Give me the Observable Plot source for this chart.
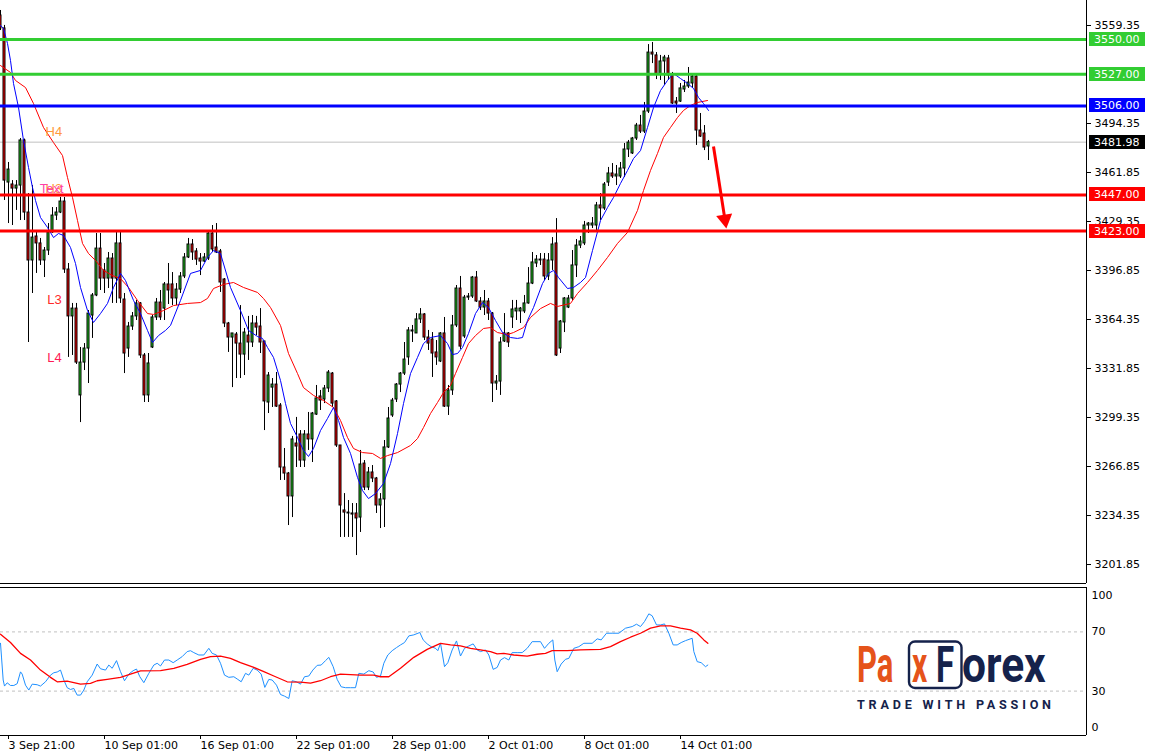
<!DOCTYPE html>
<html><head><meta charset="utf-8">
<script src="https://cdn.jsdelivr.net/npm/d3@7"></script>
<script src="https://cdn.jsdelivr.net/npm/@observablehq/plot@0.6"></script>
<style>
html,body{margin:0;padding:0;background:#fff;}
#wrap{position:relative;width:1150px;height:752px;overflow:hidden;font-family:"DejaVu Sans",sans-serif;}
#wrap svg{display:block;max-width:none;}
#logo{position:absolute;left:0;top:0;pointer-events:none;}
.rsi g[aria-label^="x-axis"] text{text-anchor:start;}
</style></head><body><div id="wrap"></div>
<script>
// ---- candle data (US500, 4H) ----
const open = [
3566.0,3557.4,3455.2,3453.9,3451.2,3453.2,3483.1,3435.3,3403.5,3419.4,
3414.8,3403.5,3410.1,3422.1,3433.3,3435.3,3442.6,3397.5,3366.4,3371.6,
3314.0,3335.8,3345.1,3367.0,3380.3,3411.4,3396.9,3391.5,3404.8,3391.5,
3414.8,3377.6,3345.1,3359.7,3366.4,3375.0,3340.5,3314.0,3345.8,3365.7,
3375.6,3371.6,3387.6,3387.6,3378.3,3384.2,3392.9,3405.5,3414.1,3409.5,
3404.8,3402.8,3404.8,3421.4,3412.1,3409.5,3390.9,3361.7,3352.4,3354.4,
3348.4,3341.1,3353.7,3349.1,3361.7,3359.7,3349.8,3309.3,3319.2,3321.2,
3307.3,3266.2,3262.2,3247.0,3282.1,3288.1,3270.8,3288.1,3284.8,3301.3,
3313.3,3311.3,3318.6,3328.5,3310.0,3280.8,3237.7,3236.3,3235.7,3235.7,
3233.0,3268.8,3252.9,3262.9,3258.9,3241.0,3245.0,3279.5,3300.7,3311.3,
3321.2,3328.5,3339.2,3356.4,3355.1,3364.4,3367.7,3352.4,3351.1,3342.5,
3336.5,3355.1,3306.6,3317.3,3360.4,3384.9,3353.1,3378.9,3379.6,3392.2,
3376.3,3372.3,3376.3,3368.3,3321.9,3323.2,3349.8,3355.1,3365.7,3369.7,
3369.7,3369.7,3375.0,3388.2,3401.5,3404.1,3404.1,3392.9,3403.5,3414.8,
3345.1,3362.4,3372.3,3378.3,3400.2,3413.4,3414.8,3426.7,3426.7,3426.7,
3440.0,3438.0,3455.2,3461.2,3459.2,3459.2,3464.5,3477.1,3474.5,3484.4,
3493.0,3489.0,3502.3,3541.4,3539.5,3526.9,3535.5,3537.5,3526.2,3508.9,
3508.9,3516.9,3518.9,3520.9,3525.5,3489.7,3487.7,3479.1];
const high = [
3569.3,3559.4,3468.5,3456.5,3456.5,3484.4,3484.0,3447.9,3453.2,3423.4,
3418.1,3412.1,3428.0,3438.6,3438.6,3445.3,3445.3,3401.5,3375.0,3375.0,
3345.8,3348.4,3370.3,3381.6,3421.4,3421.4,3401.5,3408.8,3408.1,3422.1,
3422.1,3381.6,3362.4,3369.0,3377.0,3375.6,3341.8,3341.8,3367.0,3378.3,
3383.6,3388.9,3401.5,3395.5,3388.2,3395.5,3408.1,3418.1,3417.4,3411.4,
3408.1,3408.1,3422.1,3426.7,3428.0,3410.8,3391.5,3362.4,3355.1,3355.7,
3373.6,3358.4,3366.4,3367.0,3366.4,3371.6,3349.8,3329.2,3325.2,3329.2,
3308.6,3278.8,3262.9,3286.8,3299.4,3290.7,3290.7,3302.7,3302.7,3320.6,
3317.3,3320.6,3330.5,3329.2,3310.6,3280.8,3248.9,3244.3,3242.3,3242.3,
3277.5,3270.8,3266.2,3267.5,3259.6,3248.9,3284.1,3306.0,3312.0,3321.9,
3329.2,3349.1,3359.0,3360.4,3368.3,3371.6,3368.3,3357.1,3355.7,3350.4,
3355.7,3365.7,3320.6,3367.0,3386.9,3392.9,3380.3,3381.6,3392.9,3396.2,
3378.9,3383.6,3378.3,3369.0,3327.2,3352.4,3368.3,3355.7,3377.0,3377.0,
3372.3,3380.3,3398.8,3408.8,3406.8,3408.1,3408.1,3408.1,3418.7,3431.3,
3363.7,3378.9,3380.3,3410.1,3417.4,3419.4,3429.4,3428.7,3432.0,3442.0,
3447.9,3455.2,3465.2,3467.8,3466.5,3468.5,3481.1,3483.1,3485.1,3494.4,
3499.7,3508.3,3546.7,3548.1,3541.4,3539.5,3539.5,3539.5,3528.2,3511.6,
3520.9,3522.9,3531.5,3527.5,3527.5,3501.0,3493.0,3483.1];
const low = [
3556.0,3443.3,3428.0,3426.7,3436.7,3430.0,3430.0,3349.1,3381.6,3394.9,
3400.2,3392.2,3406.8,3421.4,3430.0,3434.6,3394.9,3339.2,3340.5,3334.5,
3296.0,3330.5,3321.9,3351.8,3379.5,3383.6,3381.6,3384.9,3375.0,3375.0,
3375.0,3328.5,3339.2,3357.1,3363.7,3338.5,3309.3,3309.3,3345.1,3363.7,
3363.7,3363.7,3374.3,3373.6,3373.6,3381.6,3391.5,3404.8,3403.5,3400.2,
3393.5,3402.2,3403.5,3408.8,3408.1,3382.3,3359.0,3342.5,3319.2,3325.2,
3325.2,3327.2,3337.2,3345.8,3353.7,3341.8,3290.7,3302.0,3306.0,3306.0,
3257.6,3257.6,3227.7,3233.0,3266.2,3266.2,3266.2,3277.5,3269.5,3300.7,
3304.0,3308.6,3315.9,3306.0,3279.5,3219.8,3219.8,3219.8,3219.8,3207.8,
3223.1,3250.9,3250.9,3256.2,3235.7,3225.7,3226.4,3278.8,3299.4,3309.3,
3315.9,3327.2,3333.9,3349.1,3355.1,3361.7,3350.4,3343.8,3325.9,3333.9,
3335.8,3306.0,3300.7,3314.0,3359.0,3344.5,3351.8,3377.0,3378.3,3375.6,
3370.3,3367.0,3363.7,3309.3,3317.3,3314.0,3349.1,3345.8,3358.4,3363.7,
3361.7,3368.3,3374.5,3387.5,3398.8,3400.2,3390.2,3390.2,3396.9,3339.8,
3341.8,3355.7,3371.6,3377.0,3392.2,3411.4,3413.4,3421.4,3424.7,3423.4,
3430.0,3436.7,3452.6,3457.9,3453.2,3457.9,3458.5,3471.8,3473.8,3483.1,
3487.7,3487.7,3501.0,3534.1,3523.5,3522.9,3519.6,3522.9,3507.0,3501.0,
3508.3,3514.9,3517.6,3517.6,3479.8,3485.1,3476.4,3469.8];
const close = [
3557.4,3456.5,3463.8,3451.2,3453.2,3483.1,3435.3,3403.5,3418.7,3414.8,
3403.5,3410.1,3422.1,3433.3,3435.3,3442.6,3397.5,3366.4,3371.6,3335.8,
3335.8,3345.1,3368.3,3380.3,3411.4,3391.5,3391.5,3404.8,3391.5,3414.8,
3378.3,3341.8,3359.7,3366.4,3375.0,3340.5,3314.0,3335.2,3365.7,3375.6,
3365.7,3387.6,3383.6,3378.3,3384.2,3392.9,3405.5,3414.1,3408.8,3404.1,
3402.8,3405.5,3421.4,3410.8,3408.8,3388.9,3361.7,3352.4,3355.1,3348.4,
3341.1,3355.7,3349.1,3361.7,3359.0,3349.1,3310.0,3327.2,3321.2,3306.6,
3266.2,3262.2,3247.0,3284.8,3280.1,3270.8,3288.1,3284.8,3302.0,3312.0,
3310.6,3318.6,3329.2,3308.6,3280.8,3241.0,3236.3,3235.7,3235.0,3232.4,
3268.2,3252.9,3262.9,3258.9,3241.0,3245.0,3279.5,3298.7,3310.6,3321.2,
3328.5,3337.8,3357.1,3357.1,3364.4,3367.7,3352.4,3348.4,3341.8,3339.2,
3355.1,3306.6,3317.3,3360.4,3384.9,3346.4,3378.9,3379.6,3392.2,3376.3,
3372.3,3376.3,3368.3,3321.9,3323.2,3349.1,3355.1,3349.1,3371.0,3371.6,
3371.6,3375.0,3388.2,3402.2,3404.1,3403.5,3392.9,3403.5,3414.1,3340.5,
3363.0,3378.3,3378.3,3400.2,3413.4,3416.1,3426.7,3428.0,3428.0,3440.0,
3438.0,3453.9,3461.2,3459.2,3460.5,3464.5,3477.1,3481.7,3484.4,3493.0,
3489.0,3502.3,3541.4,3540.1,3526.9,3535.5,3538.1,3526.2,3507.6,3507.6,
3517.6,3518.9,3521.5,3525.5,3489.7,3485.7,3478.4,3481.98];

// ---- moving averages (bar index, price) ----
const fastMaIdx = [0,0.75,1.75,2.5,3.25,4.5,5.75,7,8,8.75,10,11.75,13.25,14.5,15.75,17.5,18.75,20,21.75,23.25,25,26.75,28.25,30,31.25,33.25,35,36.75,38,39.5,41.25,42.5,45,47.5,50,51.75,53.25,55,57.5,60,62,64.25,65.5,66.75,68.25,70,71.25,72.5,74.25,75.75,77,78.25,80,81.75,83.25,84.5,85.75,87.5,89.25,90.5,92,93.75,95.75,97.5,99.25,100.75,102.5,104.25,105.75,107.5,110,111.75,113,114.25,115.5,117,118.75,120.5,122,123.75,125.5,127.5,129.25,130.5,131.75,133.25,135.5,137,138.25,139.5,141.75,143.25,145,146.25,148,150,151.75,153.25,155,156.75,158.25,160,161.75,163.25,165,166.75,168.25,170,171.75,173.25,174.5,175.75,177];
const fastMaVal = [3559.4,3557.4,3547.4,3536.1,3520.9,3505.0,3483.1,3465.2,3451.9,3443.3,3432.0,3425.4,3418.7,3421.4,3420.1,3412.1,3401.5,3385.6,3370.3,3362.4,3368.3,3375.0,3385.6,3394.9,3390.2,3377.0,3368.3,3357.1,3349.1,3353.7,3357.1,3360.4,3377.0,3394.9,3396.9,3405.5,3410.1,3408.1,3385.6,3370.3,3357.1,3353.1,3351.8,3345.8,3339.2,3323.9,3308.6,3295.4,3286.1,3277.5,3273.5,3278.8,3290.7,3298.7,3306.0,3297.4,3286.1,3275.5,3259.6,3250.9,3245.6,3248.9,3255.6,3268.8,3288.7,3308.6,3328.5,3339.2,3348.4,3352.4,3353.7,3348.4,3341.1,3341.8,3345.8,3355.1,3368.3,3375.6,3372.3,3363.7,3355.7,3352.4,3351.8,3352.4,3363.7,3372.3,3388.2,3394.9,3396.9,3392.2,3384.9,3385.6,3388.9,3392.2,3410.1,3430.0,3438.6,3445.3,3454.6,3463.2,3471.1,3476.4,3491.7,3504.9,3516.2,3522.9,3527.5,3524.2,3520.9,3517.6,3511.6,3507.6,3503.0];
const slowMaIdx = [0,2.5,3.75,6.25,8.25,10.75,13.25,15.5,16.75,18,19.25,20.5,22,23.75,25.75,28,30,32,34.25,36.75,38.25,40.75,43.25,46.75,50,51.75,53.25,55.75,58.25,60.75,64.25,65.75,67.5,70,72,74.25,75.75,78.25,80.75,83.25,85,86.75,88.25,90.5,93,95,96.75,99.25,102.5,104.25,105.75,107.5,109.25,110.75,112.5,113.75,115.5,117,118.75,120.75,122.5,124.25,126.75,128.25,130.75,132.5,135,137.5,139.25,142.5,144.25,146.75,149.25,151.75,154.25,156.75,159.25,160.75,162.5,164.25,165.75,167.5,169.25,170.75,172.5,174.25,176.75];
const slowMaVal = [3532.8,3528.2,3522.9,3518.2,3507.6,3491.7,3481.7,3473.1,3458.5,3445.3,3430.0,3414.8,3408.1,3403.5,3396.9,3393.5,3391.5,3385.6,3377.0,3368.3,3367.7,3370.3,3373.6,3375.0,3375.6,3378.3,3384.9,3387.6,3388.9,3385.6,3382.3,3378.3,3372.3,3360.4,3341.8,3328.5,3319.2,3314.0,3310.6,3306.0,3297.4,3286.1,3278.8,3276.1,3275.5,3272.2,3274.1,3276.1,3280.8,3285.4,3292.7,3302.0,3309.3,3315.9,3320.6,3328.5,3339.2,3348.4,3353.7,3358.4,3359.0,3355.7,3354.4,3355.7,3359.0,3365.7,3371.6,3375.0,3373.0,3375.0,3381.6,3388.9,3396.9,3405.5,3414.8,3422.1,3436.7,3449.9,3463.2,3474.5,3485.1,3491.7,3498.3,3503.0,3506.3,3508.3,3509.6];

// ---- RSI panel (bar index, value) ----
const rsiIdx = [0,0.25,0.67,1,1.67,2.5,3.33,4.17,5,5.42,6.25,7.08,7.92,9.17,10,11.25,12.5,13.33,14.17,15,15.83,16.67,17.5,18.33,19.17,20,20.83,21.67,22.92,24.17,25,26.25,27.08,27.92,29,30,31,32.08,33.17,34,34.83,35.83,37.08,38.33,39.17,40,41,42.08,43.17,44.17,45.42,46.67,47.5,48.33,49.58,50.83,52.08,52.92,54,55,56,57.08,58.33,59.33,60.17,61.25,62.08,63.17,64.17,65.17,66.08,67.08,67.92,69,70,71,72.08,72.92,74,75,76,77.08,78.08,79.17,80.17,81.25,82.08,83.17,84.17,85.17,86.25,87.5,88.75,89.58,90.83,92.08,93.17,94,95,95.83,96.83,97.92,99,100,101,102.08,103.33,104.83,105.67,106.67,107.67,108.75,109.33,110,111,111.83,112.92,114,115,116,117.08,118.17,119.17,120,121.25,122.08,123.17,124.17,125,126,127.08,127.92,129.17,130.42,131.67,132.92,135,136,137.08,138.08,138.58,139.17,140.17,141.25,142.08,143.33,144.58,145.83,147.92,149.17,150.17,151.5,152.92,154.58,156.25,157.92,159,160,161,162.08,162.92,164,165,166,167.08,168.17,169.17,170.17,171.25,172.92,173.33,174.17,175.17,176.25,176.83];
const rsiVal = [62.3,53,37.5,33.4,35.6,33.8,33.8,35,43,41.5,34,30.7,34.7,34.3,33.4,36.3,40.8,42.4,42.9,44.2,37.5,32.3,31.1,31.8,27.3,27.3,30.7,36.3,40.8,48.3,45.1,44.2,47.6,45.4,50.6,43.1,37,41.5,43.8,44.9,39.7,35.7,42,47.6,48.8,47,51,51,49.2,51,53.3,56.7,57.3,56,54.4,54.4,58.9,55.5,54.4,48.8,40.8,39.3,39.7,37.9,36.3,42,40.8,45.4,44.2,41.5,32.5,37.9,37.5,34,27.7,26.6,25,37,36.3,34.7,39.7,40.2,44.2,47.4,47.6,50.6,52.8,46.5,37.9,32.9,32.3,32.3,32.3,42,41.5,43.8,42.9,39.3,40.2,48.8,54.4,57.3,59.4,61.2,62.8,67.3,68,69.6,64.6,61.9,60,58.9,57.3,62.3,46.5,49.2,57.8,63.9,53.7,58.9,60.5,61.9,57.8,56.7,57.8,54.4,44.7,46,51,52.6,51,56,56,56,58.9,63.4,63.4,58.9,62.3,64.6,51,43.1,48.3,51.5,52.1,58.9,60,62.3,62.3,65.3,64.6,69.1,69.1,69.1,72.5,73.6,75.2,73.6,77,82.2,80.9,74.7,74.7,75.4,69.1,61.2,61.2,62.8,64.1,65.7,56.7,49.9,49.2,46.5,47.6];
const sigIdx = [0,2.5,5,7.5,10,12.5,14.17,16.67,20,22.5,24.17,26.67,30,32.5,35,40,43.33,46.67,50,52.5,55,57.5,60,63.33,65.83,68.33,71.67,75,77.5,80,82.5,85,87.5,90,93.33,95,97.08,100,103.33,106.67,110,112.5,115,117.5,120,122.5,124.17,125.83,128.33,131.67,134.17,136.25,137.92,141.67,145,150,152.5,155,157.5,160,162.5,165,167.5,170,172.5,174.17,175.83,176.83];
const sigVal = [68.4,62.8,55.5,51,44.2,39.3,36.3,36.8,34.7,35.2,37,37.9,39.3,41.5,43.6,43.8,45.4,48.1,51.5,53.3,53.7,52.1,49.2,46,43.1,40.2,36.3,36.1,35.4,37,39.7,41.5,41.1,40.8,40.8,39.7,39.7,45.4,52.8,58.2,62.3,61.2,60.5,58.9,57.8,56.7,55.1,55.5,54.4,53.7,54.9,55.5,57.3,57.3,57.8,58.2,60,63.4,66.4,69.1,72.5,74.1,74.1,72.5,71.4,69.1,64.6,62.3];
const rsiLevels = [70, 30];

// ---- levels, axis ticks, time labels, annotations ----
const levelPrices = [3550, 3527, 3506, 3447, 3423];
const levelColors = ["#32cd32", "#32cd32", "#0000ff", "#ff0000", "#ff0000"];
const currentPrice = 3481.98;
const priceTicks = [3201.85,3234.35,3266.85,3299.35,3331.85,3364.35,3396.85,3429.35,3461.85,3494.35,3559.35];
const timeTickIdx = [2, 26, 50, 74, 98, 122, 146, 170];
const timeTickLabels = ["3 Sep 21:00","10 Sep 01:00","16 Sep 01:00","22 Sep 01:00","28 Sep 01:00","2 Oct 01:00","8 Oct 01:00","14 Oct 01:00"];
const pivotNames = ["H4", "H3", "Text", "L3", "L4"];
const pivotIdx = [11.25, 11.25, 9.8, 11.7, 11.7];
const pivotPrice = [3489.0, 3451.2, 3451.2, 3377.6, 3339.2];
const pivotColors = ["#ff9a3c", "#ff9a3c", "#ff3fa8", "#ff2a2a", "#ff1a55"];
const arrowStart = [178.25, 3479.1];
const arrowTip = [181.1, 3430.8];

// ---- build ----
const UP = "#22cc22", DOWN = "#ff0000";
const xDomain = [0, 271.5];
const yDomain = [3189.26, 3575.93];
const candles = open.map((o, i) => ({i, o, h: high[i], l: low[i], c: close[i]}));
const fastMa = fastMaIdx.map((i, k) => ({i, v: fastMaVal[k]}));
const slowMa = slowMaIdx.map((i, k) => ({i, v: slowMaVal[k]}));
const levels = levelPrices.map((p, k) => ({price: p, color: levelColors[k]}));
const boxes = [...levels, {price: currentPrice, color: "#000000"}];
const pivots = pivotNames.map((t, k) => ({t, i: pivotIdx[k], p: pivotPrice[k], color: pivotColors[k]}));
const rsi = rsiIdx.map((i, k) => ({i, v: rsiVal[k]}));
const sig = sigIdx.map((i, k) => ({i, v: sigVal[k]}));
const timeLabelOf = new Map(timeTickIdx.map((k, j) => [k, timeTickLabels[j]]));

// price tags on the right axis, positioned with the plot's own scales
function priceBoxes(index, scales) {
  const g = d3.create("svg:g").attr("text-anchor", "start");
  const x0 = Math.round(scales.x(xDomain[1])) + 3;
  for (const d of boxes) {
    const y = Math.round(scales.y(d.price));
    g.append("rect").attr("x", x0).attr("y", y - 7).attr("width", 56).attr("height", 14).attr("fill", d.color);
    g.append("text").attr("x", x0 + 5).attr("y", y).attr("dy", "0.36em").attr("text-anchor", "start")
      .attr("fill", "#ffffff").attr("font-family", "DejaVu Sans").attr("font-size", 11)
      .text(d.price.toFixed(2));
  }
  return g.node();
}

const baseStyle = {fontFamily: "DejaVu Sans", fontSize: "11px", background: "#ffffff", color: "#000000"};

const mainChart = Plot.plot({
  width: 1150, height: 586,
  marginLeft: 0, marginRight: 64, marginTop: 0, marginBottom: 3,
  style: baseStyle,
  x: {domain: xDomain, axis: null},
  y: {domain: yDomain, axis: "right", ticks: priceTicks, tickFormat: d => d.toFixed(2), tickSize: 4, tickPadding: 4, label: null},
  marks: [
    Plot.ruleY([currentPrice], {stroke: "#c0c0c0"}),
    Plot.ruleX(candles, {x: "i", y1: "l", y2: "h", stroke: "#000000"}),
    Plot.rect(candles, {x1: d => d.i - 0.25, x2: d => d.i + 0.25, y1: "o", y2: "c",
      fill: d => d.c >= d.o ? UP : DOWN, stroke: "#000000", strokeWidth: 1}),
    Plot.line(slowMa, {x: "i", y: "v", stroke: "#ff0000", strokeWidth: 1}),
    Plot.line(fastMa, {x: "i", y: "v", stroke: "#0000ff", strokeWidth: 1}),
    Plot.ruleY(levels, {y: "price", stroke: "color", strokeWidth: 3}),
    Plot.ruleX([xDomain[1]], {stroke: "#000000"}),
    Plot.ruleY([yDomain[0]], {stroke: "#000000"}),
    Plot.text(pivots, {x: "i", y: "p", text: "t", fill: "color", textAnchor: "start", fontSize: 13, fontFamily: "Liberation Sans"}),
    Plot.link([{a: arrowStart, b: arrowTip}], {x1: d => d.a[0], y1: d => d.a[1], x2: d => d.b[0], y2: d => d.b[1], stroke: "#ff0000", strokeWidth: 3}),
    Plot.dot([arrowTip], {x: d => d[0], y: d => d[1], symbol: "triangle", r: 6, fill: "#ff0000", stroke: "none", rotate: 171}),
    priceBoxes
  ]
});

const rsiChart = Plot.plot({
  width: 1150, height: 166,
  marginLeft: 0, marginRight: 64, marginTop: 1, marginBottom: 17,
  style: baseStyle,
  x: {domain: xDomain, ticks: timeTickIdx, tickFormat: d => timeLabelOf.get(d), tickSize: 4, tickPadding: 2, label: null},
  y: {domain: [0, 100], axis: null},
  marks: [
    Plot.ruleY(rsiLevels, {stroke: "#c0c0c0", strokeDasharray: "3,3"}),
    Plot.line(rsi, {x: "i", y: "v", stroke: "#1e90ff", strokeWidth: 1}),
    Plot.line(sig, {x: "i", y: "v", stroke: "#ff0000", strokeWidth: 1.3}),
    Plot.ruleY([0, 100], {stroke: "#000000"}),
    Plot.ruleX([xDomain[1]], {stroke: "#000000"}),
    Plot.text([100], {y: d => d, frameAnchor: "right", dx: 5, dy: 8, text: d => String(d), textAnchor: "start", fill: "#000000"}),
    Plot.text(rsiLevels, {y: d => d, frameAnchor: "right", dx: 5, text: d => String(d), textAnchor: "start", fill: "#000000"}),
    Plot.text([0], {y: d => d, frameAnchor: "right", dx: 5, dy: -8, text: d => String(d), textAnchor: "start", fill: "#000000"})
  ]
});
rsiChart.classList.add("rsi");

const wrap = document.getElementById("wrap");
wrap.appendChild(mainChart);
wrap.appendChild(rsiChart);

// PaxForex watermark logo (each piece horizontally condensed to the logo's letter widths)
const logo = document.createElementNS("http://www.w3.org/2000/svg", "svg");
logo.setAttribute("id", "logo");
logo.setAttribute("width", "1150");
logo.setAttribute("height", "752");
logo.innerHTML = `
  <rect x="909" y="641.5" width="52.5" height="46.5" rx="6" fill="none" stroke="#15224b" stroke-width="2.4"/>
  <g font-family="Roboto" font-weight="700" font-size="50" text-anchor="start">
    <text transform="translate(857,682) scale(0.62,1)" fill="#e5531a">Pa</text>
    <text transform="translate(912,682) scale(0.6,1)" fill="#e5531a">x</text>
    <text transform="translate(936,682) scale(0.66,1)" fill="#15224b">F</text>
    <text transform="translate(962,682) scale(0.85,1)" fill="#15224b">orex</text>
  </g>
  <text x="857" y="709" font-family="Roboto" font-weight="700" font-size="12.6" fill="#15224b" textLength="194" lengthAdjust="spacing">TRADE WITH PASSION</text>`;
wrap.appendChild(logo);
</script></body></html>
